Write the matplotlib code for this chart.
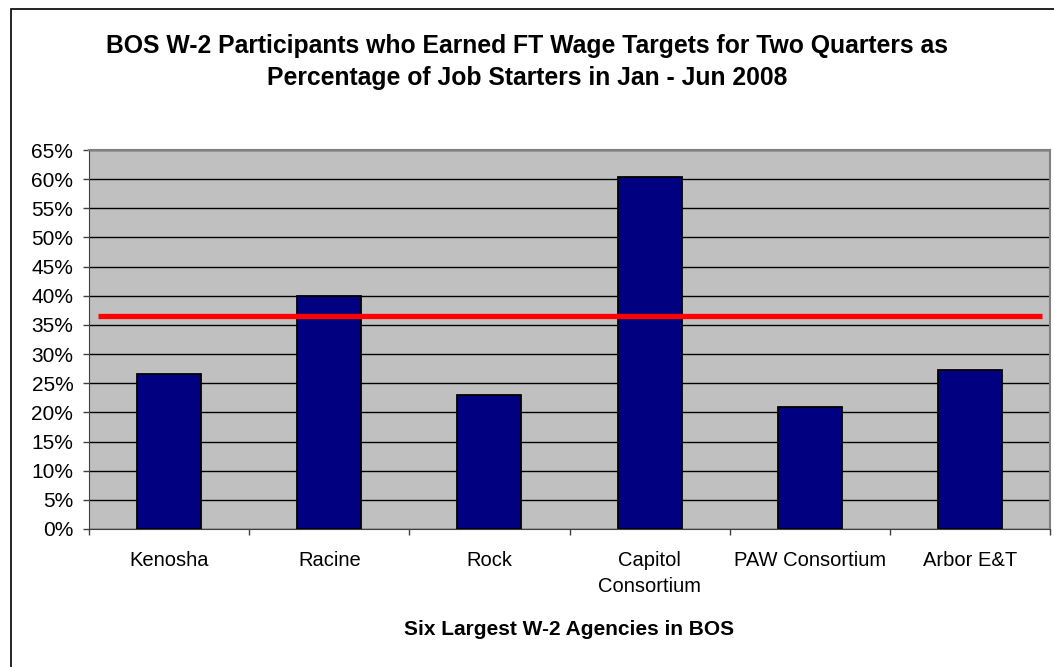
import matplotlib.pyplot as plt
from matplotlib.patches import Rectangle
from matplotlib.ticker import PercentFormatter

agencies = ['Kenosha', 'Racine', 'Rock', 'Capitol\nConsortium', 'PAW Consortium', 'Arbor E&T']
pct_earned = [26.6, 40.0, 23.0, 60.4, 21.0, 27.3]
bos_average = 36.5

plt.rcParams['font.family'] = ['Liberation Sans', 'DejaVu Sans']

fig = plt.figure(figsize=(10.54, 6.67), dpi=100)
# chart area border (Excel style)
fig.patches.append(Rectangle((11 / 1054, -0.1), 1.2, 1 - 9 / 667 + 0.1,
                             transform=fig.transFigure, fill=False,
                             edgecolor='black', linewidth=1.2))

ax = fig.add_axes([89 / 1054, 1 - 529 / 667, (1050 - 89) / 1054, (529 - 150) / 667])
ax.set_facecolor('#c0c0c0')

x = range(len(agencies))
ax.bar(x, pct_earned, width=0.4, color='#000080', edgecolor='black', linewidth=1.3, zorder=3)
ax.hlines(bos_average, -0.445, 5.45, color='#ff0000', linewidth=3.8, zorder=4)

ax.set_xlim(-0.5, 5.5)
ax.set_ylim(0, 65)
ax.set_yticks(range(0, 66, 5))
ax.yaxis.set_major_formatter(PercentFormatter(decimals=0))
ax.yaxis.grid(True, color='black', linewidth=1, zorder=1)
ax.set_axisbelow(True)

ax.set_xticks([i - 0.5 for i in range(len(agencies) + 1)])
ax.set_xticklabels([])
ax.set_xticks(list(x), minor=True)
ax.set_xticklabels(agencies, minor=True, fontsize=14.5, linespacing=1.45)
ax.tick_params(axis='x', which='minor', length=0, pad=16)
ax.tick_params(axis='x', which='major', length=4.3, width=1, color='#404040', direction='out')
ax.tick_params(axis='y', length=4.3, width=1, color='#404040', direction='out', pad=7, labelsize=15)

for side in ['top', 'right']:
    ax.spines[side].set_color('#808080')
    ax.spines[side].set_linewidth(1.5)
ax.spines['left'].set_color('#404040')
ax.spines['bottom'].set_color('#404040')

ax.set_xlabel('Six Largest W-2 Agencies in BOS', fontsize=15, fontweight='bold', labelpad=17)
fig.text(0.5, 1 - 62 / 667, 'BOS W-2 Participants who Earned FT Wage Targets for Two Quarters as\n'
         'Percentage of Job Starters in Jan - Jun 2008',
         ha='center', va='center', fontsize=17.8, fontweight='bold', linespacing=1.45)

plt.savefig('out.png', dpi=100)
